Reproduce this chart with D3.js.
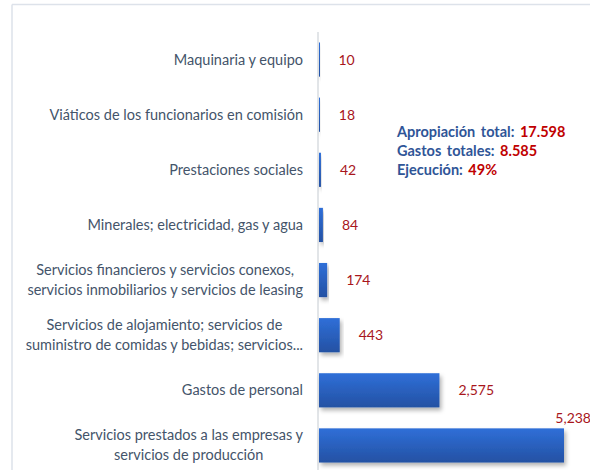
<!DOCTYPE html>
<html>
<head>
<meta charset="utf-8">
<script src="https://cdn.jsdelivr.net/npm/d3@7"></script>
<style>
  body { margin: 0; background: #fff; }
  svg { display: block; font-family: Lato, "Open Sans", sans-serif; }
</style>
</head>
<body>
<script>
var w = 590;
var h = 470;

// categories top to bottom, each label split into its lines
var categories = [
    "Maquinaria y equipo",
    "Viáticos de los funcionarios en comisión",
    "Prestaciones sociales",
    "Minerales; electricidad, gas y agua",
    "Servicios financieros y servicios conexos, servicios inmobiliarios y servicios de leasing",
    "Servicios de alojamiento; servicios de suministro de comidas y bebidas; servicios...",
    "Gastos de personal",
    "Servicios prestados a las empresas y servicios de producción"
];
var labelLines = [
    ["Maquinaria y equipo"],
    ["Viáticos de los funcionarios en comisión"],
    ["Prestaciones sociales"],
    ["Minerales; electricidad, gas y agua"],
    ["Servicios financieros y servicios conexos,", "servicios inmobiliarios y servicios de leasing"],
    ["Servicios de alojamiento; servicios de", "suministro de comidas y bebidas; servicios..."],
    ["Gastos de personal"],
    ["Servicios prestados a las empresas y", "servicios de producción"]
];
var values = [10, 18, 42, 84, 174, 443, 2575, 5238];

var summaryLabels = ["Apropiación total: ", "Gastos totales: ", "Ejecución: "];
var summaryValues = ["17.598", "8.585", "49%"];

var svg = d3.select("body")
    .append("svg")
    .attr("width", w)
    .attr("height", h);

var defs = svg.append("defs");
var grad = defs.append("linearGradient")
    .attr("id", "barGrad")
    .attr("x1", 0).attr("y1", 0).attr("x2", 0).attr("y2", 1);
grad.append("stop").attr("offset", "0%").attr("stop-color", "#2f6fd8");
grad.append("stop").attr("offset", "100%").attr("stop-color", "#2451a3");

var shadow = defs.append("filter")
    .attr("id", "shadow")
    .attr("x", "-10%").attr("y", "-20%")
    .attr("width", "130%").attr("height", "160%");
shadow.append("feDropShadow")
    .attr("dx", 2).attr("dy", 3)
    .attr("stdDeviation", 2)
    .attr("flood-color", "#000")
    .attr("flood-opacity", 0.3);

// frame of the chart area
svg.append("line")
    .attr("x1", 12).attr("x2", w)
    .attr("y1", 4.5).attr("y2", 4.5)
    .attr("stroke", "#dde2ea").attr("stroke-width", 1.5);
svg.append("line")
    .attr("x1", 12).attr("x2", 12)
    .attr("y1", 4.5).attr("y2", h)
    .attr("stroke", "#dde2ea").attr("stroke-width", 1.5);

var x0 = 319;
var xScale = d3.scaleLinear()
    .domain([0, 5238])
    .range([x0, 564]);

var yScale = d3.scaleBand()
    .domain(categories)
    .range([32, 473])
    .paddingInner(0.38)
    .paddingOuter(0.19);

// axis line
svg.append("line")
    .attr("x1", x0 - 1).attr("x2", x0 - 1)
    .attr("y1", 32).attr("y2", h)
    .attr("stroke", "#d9dce1").attr("stroke-width", 1.5);

svg.selectAll("rect.bar")
    .data(values)
    .enter()
    .append("rect")
    .attr("class", "bar")
    .attr("x", x0)
    .attr("y", function(d, i) { return yScale(categories[i]); })
    .attr("width", function(d) { return Math.max(1, xScale(d) - x0); })
    .attr("height", yScale.bandwidth())
    .attr("fill", "url(#barGrad)")
    .attr("filter", "url(#shadow)");

// value labels, the longest bar gets its label above the bar end
svg.selectAll("text.val")
    .data(values)
    .enter()
    .append("text")
    .attr("class", "val")
    .attr("x", function(d) {
        var x = xScale(d) + 19;
        return x > 520 ? w + 1 : x;
    })
    .attr("y", function(d, i) {
        var c = yScale(categories[i]) + yScale.bandwidth() / 2;
        return xScale(d) + 19 > 520 ? yScale(categories[i]) - 5 : c + 5;
    })
    .attr("text-anchor", function(d) { return xScale(d) + 19 > 520 ? "end" : "start"; })
    .attr("font-size", 14)
    .attr("fill", "#a8161c")
    .text(function(d) { return d3.format(",")(d); });

// category labels: lines centred within a right aligned block
var lineH = 20;
labelLines.forEach(function(lines, i) {
    var c = yScale(categories[i]) + yScale.bandwidth() / 2;
    var g = svg.append("g");
    var texts = lines.map(function(line, j) {
        return g.append("text")
            .attr("y", c + (j - (lines.length - 1) / 2) * lineH + 5)
            .attr("font-size", 14.5)
            .attr("fill", "#44546a")
            .attr("text-anchor", "middle")
            .text(line);
    });
    var maxW = d3.max(texts, function(t) { return t.node().getComputedTextLength(); });
    texts.forEach(function(t) { t.attr("x", 303 - maxW / 2); });
});

// summary box
summaryLabels.forEach(function(lab, i) {
    var t = svg.append("text")
        .attr("x", 397)
        .attr("y", 137 + i * 19)
        .attr("font-size", 14.5)
        .attr("font-weight", "bold")
        .attr("word-spacing", 2);
    t.append("tspan").attr("fill", "#2f5597").text(lab);
    t.append("tspan").attr("fill", "#c00000").text(summaryValues[i]);
});
</script>
</body>
</html>
